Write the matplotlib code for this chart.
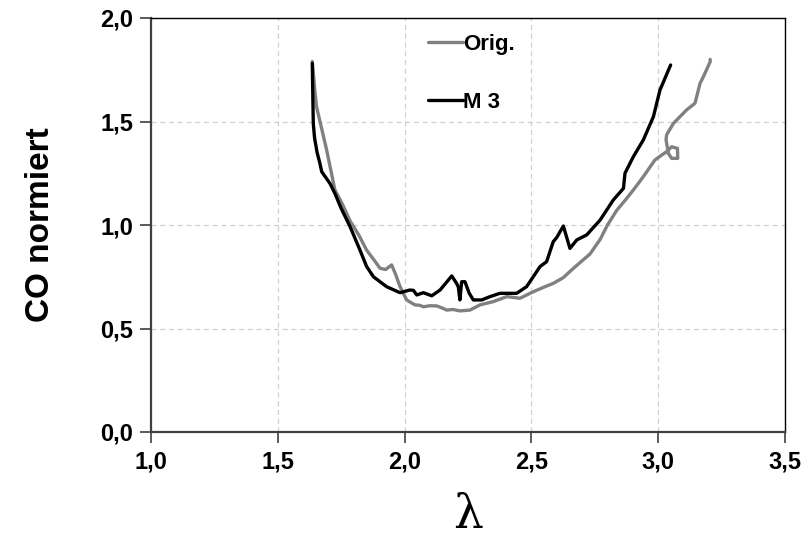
import matplotlib
matplotlib.use("Agg")
import matplotlib.pyplot as plt
from matplotlib.ticker import FuncFormatter

plt.rcParams['font.family'] = ['Liberation Sans', 'DejaVu Sans']
plt.rcParams['font.weight'] = 'bold'

# Lambda vs. normalised CO, original and model variant 3
orig_lambda = [1.636, 1.647, 1.653, 1.693, 1.725, 1.755, 1.785, 1.82, 1.85, 1.88,
               1.903, 1.925, 1.949, 1.965, 1.982, 2.008, 2.025, 2.041, 2.06, 2.074,
               2.10, 2.127, 2.15, 2.166, 2.19, 2.218, 2.258, 2.297, 2.35, 2.403,
               2.455, 2.508, 2.55, 2.586, 2.625, 2.665, 2.731, 2.771, 2.80, 2.836,
               2.87, 2.902, 2.941, 2.987, 3.014, 3.033, 3.053, 3.076, 3.077, 3.053,
               3.04, 3.031, 3.033, 3.06, 3.112, 3.145, 3.165, 3.178, 3.205, 3.205]
orig_co = [1.79, 1.636, 1.57, 1.36, 1.17, 1.10, 1.02, 0.95, 0.879, 0.83,
           0.791, 0.785, 0.807, 0.76, 0.702, 0.638, 0.625, 0.614, 0.612, 0.605,
           0.610, 0.609, 0.598, 0.589, 0.592, 0.585, 0.589, 0.614, 0.630, 0.654,
           0.646, 0.678, 0.70, 0.718, 0.745, 0.79, 0.86, 0.93, 1.0, 1.07,
           1.12, 1.169, 1.233, 1.314, 1.338, 1.354, 1.378, 1.370, 1.322, 1.322,
           1.346, 1.411, 1.435, 1.491, 1.556, 1.588, 1.684, 1.716, 1.789, 1.80]

m3_lambda = [1.636, 1.637, 1.640, 1.645, 1.655, 1.666, 1.673, 1.706, 1.725, 1.75,
             1.785, 1.824, 1.85, 1.877, 1.929, 1.982, 2.021, 2.035, 2.048, 2.074,
             2.107, 2.14, 2.186, 2.205, 2.212, 2.218, 2.225, 2.238, 2.255, 2.271,
             2.304, 2.337, 2.376, 2.442, 2.481, 2.534, 2.56, 2.586, 2.60, 2.626,
             2.652, 2.679, 2.718, 2.771, 2.823, 2.863, 2.869, 2.902, 2.941, 2.981,
             3.007, 3.049]
m3_co = [1.781, 1.70, 1.49, 1.42, 1.35, 1.298, 1.258, 1.20, 1.153, 1.08,
         0.992, 0.879, 0.80, 0.750, 0.702, 0.673, 0.686, 0.684, 0.662, 0.673,
         0.658, 0.686, 0.754, 0.718, 0.70, 0.638, 0.726, 0.726, 0.67, 0.638,
         0.638, 0.654, 0.670, 0.670, 0.702, 0.799, 0.823, 0.919, 0.94, 0.995,
         0.887, 0.928, 0.952, 1.024, 1.121, 1.177, 1.25, 1.33, 1.41, 1.523,
         1.652, 1.773]

x_ticks = [1.0, 1.5, 2.0, 2.5, 3.0, 3.5]
y_ticks = [0.0, 0.5, 1.0, 1.5, 2.0]

fig = plt.figure(figsize=(8.09, 5.49), dpi=100)
ax = fig.add_axes([151 / 809, 117 / 549, 634 / 809, 414 / 549])

ax.plot(orig_lambda, orig_co, color='#808080', lw=2.4, label='Orig.',
        solid_joinstyle='round', solid_capstyle='round')
ax.plot(m3_lambda, m3_co, color='black', lw=2.4, label='M 3',
        solid_joinstyle='round', solid_capstyle='round')

ax.set_xlim(1.0, 3.5)
ax.set_ylim(0.0, 2.0)
ax.set_xticks(x_ticks)
ax.set_yticks(y_ticks)
comma = FuncFormatter(lambda v, p: f"{v:.1f}".replace('.', ','))
ax.xaxis.set_major_formatter(comma)
ax.yaxis.set_major_formatter(comma)

ax.grid(True, color='#d0d0d0', linestyle=(0, (4, 3)), linewidth=0.9)
ax.set_axisbelow(True)

for side in ('left', 'bottom'):
    ax.spines[side].set_color('#404040')
    ax.spines[side].set_linewidth(1.6)
for side in ('top', 'right'):
    ax.spines[side].set_color('black')
    ax.spines[side].set_linewidth(1.0)

ax.tick_params(axis='both', direction='out', length=8, width=1.2, color='#404040',
               labelsize=17, pad=5)
for lbl in ax.get_xticklabels() + ax.get_yticklabels():
    lbl.set_fontweight('bold')

ax.set_ylabel('CO normiert', fontsize=24, fontweight='bold', labelpad=32)
ax.set_xlabel('λ', fontsize=34, fontweight='normal', family='DejaVu Serif', labelpad=14)

ax.legend(loc='upper left', bbox_to_anchor=(0.405, 1.01), frameon=False,
          handlelength=1.6, handletextpad=0.0, labelspacing=1.65,
          prop={'size': 16, 'weight': 'bold'})

fig.savefig('out.png', dpi=100)
